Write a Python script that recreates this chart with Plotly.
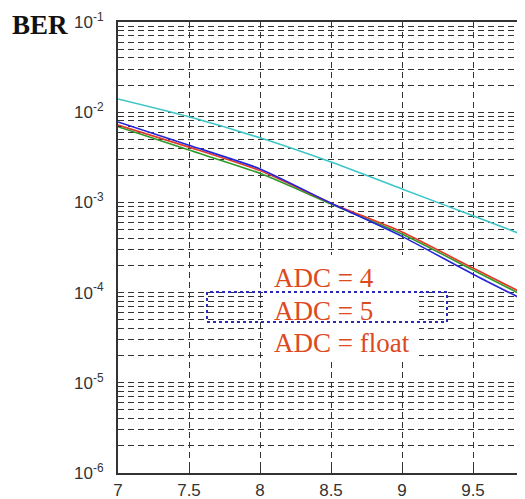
import plotly.graph_objects as go

# ---- data ----
SNR = [7.0, 7.5, 8.0, 8.5, 9.0, 9.5, 10.0]
BER_CYAN = [1.40e-2, 8.9e-3, 5.2e-3, 2.8e-3, 1.41e-3, 7.1e-4, 3.55e-4]
BER_BLUE = [7.8e-3, 4.3e-3, 2.35e-3, 9.8e-4, 4.2e-4, 1.6e-4, 6.4e-5]
BER_RED = [7.2e-3, 4.1e-3, 2.25e-3, 9.8e-4, 4.7e-4, 1.87e-4, 7.5e-5]
BER_GREEN = [6.9e-3, 3.8e-3, 2.1e-3, 9.6e-4, 4.47e-4, 1.78e-4, 7.1e-5]

Y_TICK_VALS = [1e-6, 1e-5, 1e-4, 1e-3, 1e-2, 1e-1]
Y_TICK_TEXT = ["10<sup>-6</sup>", "10<sup>-5</sup>", "10<sup>-4</sup>",
               "10<sup>-3</sup>", "10<sup>-2</sup>", "10<sup>-1</sup>"]
Y_MINOR_VALS = [m * d for d in [1e-6, 1e-5, 1e-4, 1e-3, 1e-2] for m in range(2, 10)]
X_TICK_VALS = [7, 7.5, 8, 8.5, 9, 9.5, 10]
X_TICK_TEXT = ["7", "7.5", "8", "8.5", "9", "9.5", "10"]
LEGEND_TEXT = ["ADC = 4", "ADC = 5", "ADC = float"]

# ---- layout geometry ----
# the page body has an 8px default margin, so the figure starts at (8, 8)
OFF = 8
W, H = 525 - OFF, 499 - OFF
# plot area in page pixels: x 118..525, y 22..473
PL, PR, PT, PB = 118, 525, 22, 473
ML, MT = PL - OFF, PT - OFF
MR = W - (PR - OFF)
MB = H - (PB - OFF)
PW, PH = PR - PL, PB - PT


def px(x):  # page pixel -> paper x
    return (x - PL) / PW


def py(y):  # page pixel -> paper y
    return 1 - (y - PT) / PH


fig = go.Figure()
series = [
    (BER_CYAN, "#3EC6C6"),
    (BER_GREEN, "#2A9A2A"),
    (BER_RED, "#E03A2A"),
    (BER_BLUE, "#2424D8"),
]
for ys, col in series:
    fig.add_trace(go.Scatter(x=SNR, y=ys, mode="lines",
                             line=dict(color=col, width=1.6, shape="spline", smoothing=0.6),
                             showlegend=False, hoverinfo="skip"))

grid_dash = "6px,4px"
grid_col = "#333"
tick_font = dict(family="Liberation Sans, Arial", size=17, color="#333")
fig.update_xaxes(
    range=[7, 7 + PW / 142.0],
    tickmode="array", tickvals=X_TICK_VALS, ticktext=X_TICK_TEXT,
    showgrid=True, gridcolor=grid_col, griddash=grid_dash, gridwidth=1,
    showline=True, linecolor="#333", linewidth=2, mirror="ticks",
    ticks="inside", ticklen=5, tickcolor="#333",
    tickfont=tick_font, zeroline=False, ticklabelstandoff=1,
)
fig.update_yaxes(
    type="log", range=[-6, -1],
    tickmode="array", tickvals=Y_TICK_VALS, ticktext=Y_TICK_TEXT,
    showgrid=True, gridcolor=grid_col, griddash=grid_dash, gridwidth=1,
    showline=True, linecolor="#333", linewidth=2, mirror=False,
    ticks="inside", ticklen=5, tickcolor="#333",
    tickfont=tick_font,
    minor=dict(tickmode="array", tickvals=Y_MINOR_VALS, showgrid=True,
               gridcolor=grid_col, griddash=grid_dash, gridwidth=1,
               ticks="inside", ticklen=3, tickcolor="#333"),
    zeroline=False, ticklabelstandoff=9,
)

shapes = [
    # white patch behind the legend texts
    dict(type="rect", xref="paper", yref="paper",
         x0=px(263), x1=px(419), y0=py(360), y1=py(255),
         fillcolor="white", line=dict(width=0), layer="above"),
    # dotted highlight box around "ADC = 5"
    dict(type="rect", xref="paper", yref="paper",
         x0=px(207), x1=px(447), y0=py(322), y1=py(292),
         fillcolor="rgba(0,0,0,0)", line=dict(color="#2A2AB8", width=2, dash="dot"),
         layer="above"),
]

annotations = [
    dict(text="<b>BER</b>", xref="paper", yref="paper", x=px(40), y=py(25),
         xanchor="center", yanchor="middle", showarrow=False,
         font=dict(family="Liberation Serif, Times New Roman", size=27, color="#111")),
]
for txt, yc in zip(LEGEND_TEXT, [278, 311, 343]):
    annotations.append(dict(text=txt, xref="paper", yref="paper", x=px(272), y=py(yc),
                            xanchor="left", yanchor="middle", showarrow=False,
                            font=dict(family="Liberation Serif, Times New Roman",
                                      size=27, color="#DC4A1E")))

fig.update_layout(
    width=W, height=H,
    margin=dict(l=ML, r=MR, t=MT, b=MB, pad=0),
    paper_bgcolor="white", plot_bgcolor="white",
    shapes=shapes, annotations=annotations, showlegend=False,
)

fig.write_html("out.html")
